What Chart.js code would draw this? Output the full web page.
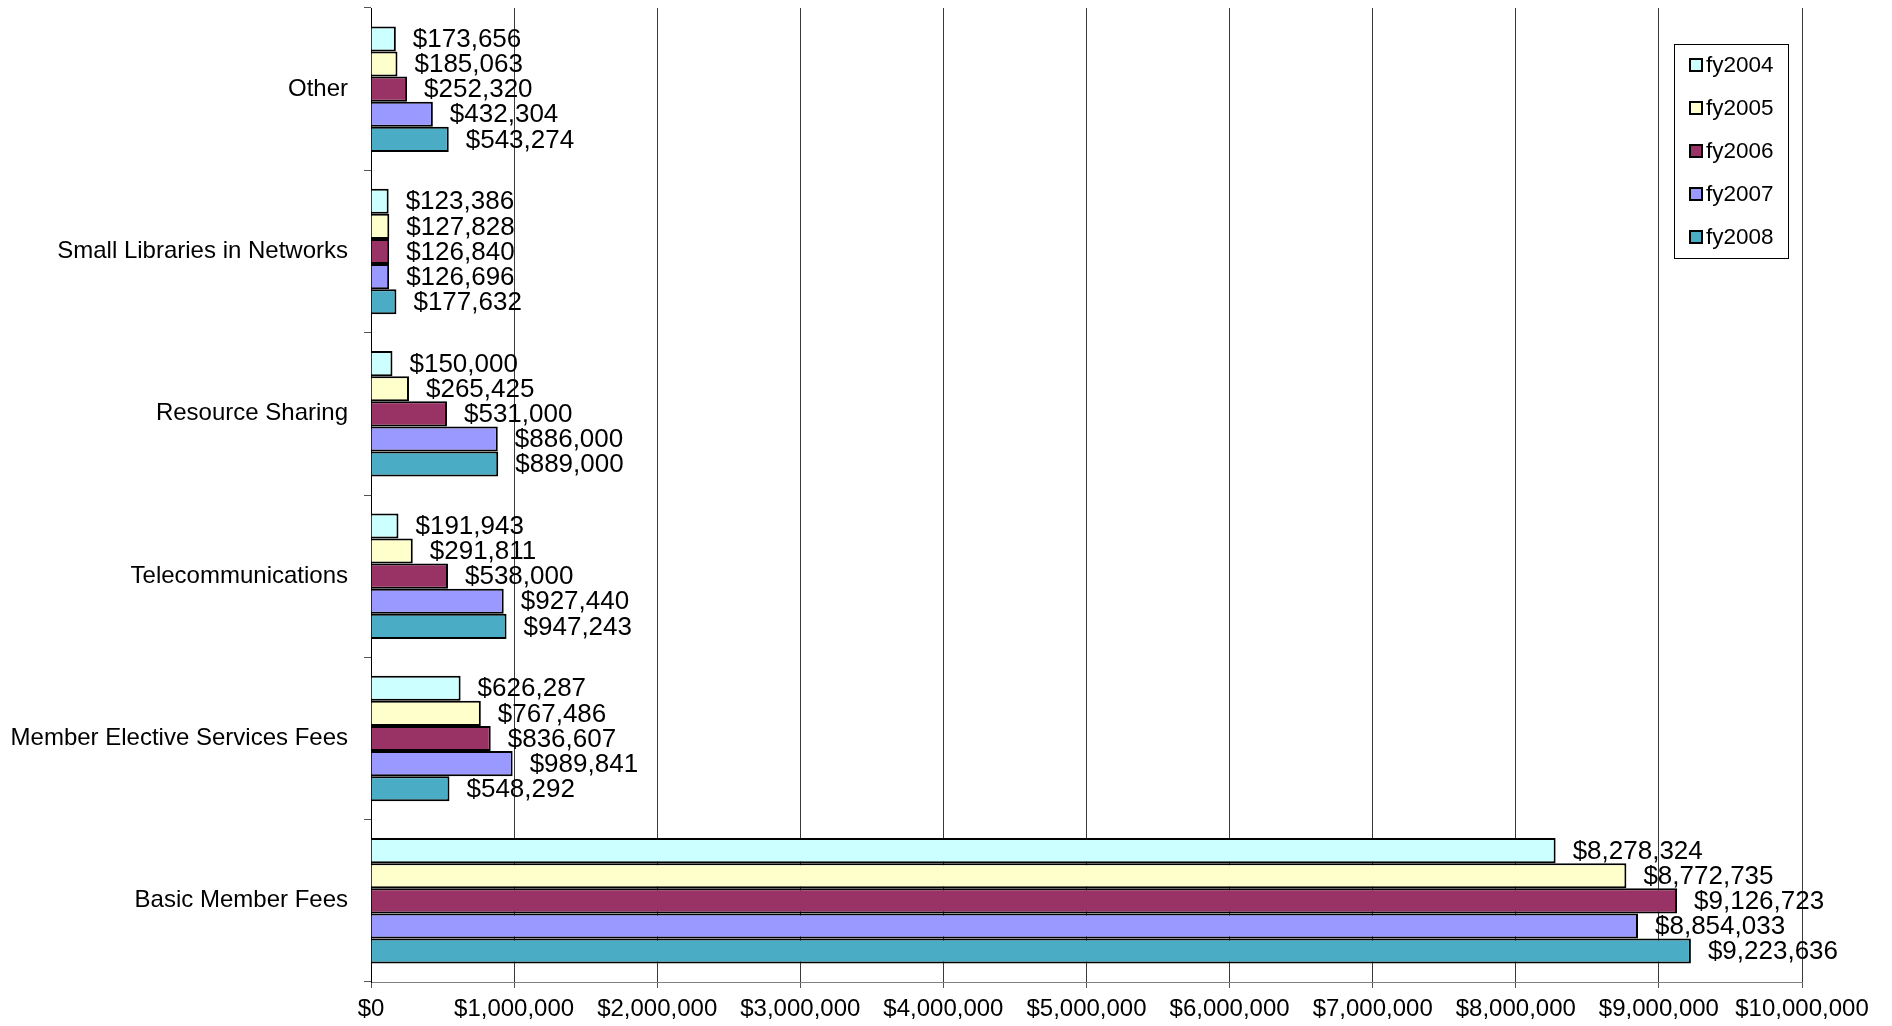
<!DOCTYPE html>
<html>
<head>
<meta charset="utf-8">
<script src="https://cdn.jsdelivr.net/npm/chart.js@4/dist/chart.umd.min.js"></script>
<style>
  html, body { margin: 0; padding: 0; background: #fff; }
  #wrap { width: 1892px; height: 1026px; }
</style>
</head>
<body>
<div id="wrap"><canvas id="revenueChart"></canvas></div>
<script>
const categories = ["Other", "Small Libraries in Networks", "Resource Sharing",
  "Telecommunications", "Member Elective Services Fees", "Basic Member Fees"];

const fy2004 = [173656, 123386, 150000, 191943, 626287, 8278324];
const fy2005 = [185063, 127828, 265425, 291811, 767486, 8772735];
const fy2006 = [252320, 126840, 531000, 538000, 836607, 9126723];
const fy2007 = [432304, 126696, 886000, 927440, 989841, 8854033];
const fy2008 = [543274, 177632, 889000, 947243, 548292, 9223636];

const seriesNames = ["fy2004", "fy2005", "fy2006", "fy2007", "fy2008"];
const seriesColors = ['#CCFFFF', '#FFFFCC', '#993366', '#9999FF', '#4BACC6'];

const tickValues = [0, 1000000, 2000000, 3000000, 4000000, 5000000,
  6000000, 7000000, 8000000, 9000000, 10000000];

const FONT = "'Liberation Sans', Arial, sans-serif";

function money(v) {
  return '$' + Number(v).toLocaleString('en-US');
}

const valueLabels = {
  id: 'valueLabels',
  afterDatasetsDraw(chart) {
    const ctx = chart.ctx;
    ctx.save();
    ctx.font = '26px ' + FONT;
    ctx.fillStyle = '#000';
    ctx.textAlign = 'left';
    ctx.textBaseline = 'middle';
    chart.data.datasets.forEach((ds, i) => {
      const meta = chart.getDatasetMeta(i);
      meta.data.forEach((bar, j) => {
        ctx.fillText(money(ds.data[j]), bar.x + 17, bar.y + 1);
      });
    });
    ctx.restore();
  }
};

const boxLegend = {
  id: 'boxLegend',
  afterDraw(chart) {
    const ctx = chart.ctx;
    const left = 1674, top = 44, w = 114, h = 214;
    ctx.save();
    ctx.fillStyle = '#fff';
    ctx.fillRect(left, top, w, h);
    ctx.strokeStyle = '#000';
    ctx.lineWidth = 1;
    ctx.strokeRect(left + 0.5, top + 0.5, w, h);
    ctx.font = '22.5px ' + FONT;
    ctx.textBaseline = 'middle';
    ctx.textAlign = 'left';
    chart.data.datasets.forEach((ds, i) => {
      const cy = top + 21 + i * 43;
      ctx.fillStyle = ds.backgroundColor;
      ctx.fillRect(left + 16, cy - 6, 12, 12);
      ctx.lineWidth = 2;
      ctx.strokeStyle = '#000';
      ctx.strokeRect(left + 16, cy - 6, 12, 12);
      ctx.fillStyle = '#000';
      ctx.fillText(ds.label, left + 32, cy + 1);
    });
    ctx.restore();
  }
};

const allSeries = [fy2004, fy2005, fy2006, fy2007, fy2008];

const ctx = document.getElementById('revenueChart').getContext('2d');
new Chart(ctx, {
  type: 'bar',
  data: {
    labels: categories,
    datasets: allSeries.map((vals, i) => ({
      label: seriesNames[i],
      data: vals,
      backgroundColor: seriesColors[i],
      borderColor: '#000',
      borderWidth: 2,
      categoryPercentage: 0.773,
      barPercentage: 1.0
    }))
  },
  options: {
    indexAxis: 'y',
    responsive: true,
    maintainAspectRatio: false,
    animation: false,
    layout: { padding: { top: 8, right: 90, bottom: 0, left: 0 } },
    plugins: {
      legend: { display: false },
      tooltip: { enabled: false }
    },
    scales: {
      x: {
        min: 0,
        max: 10000000,
        afterBuildTicks: s => { s.ticks = tickValues.map(v => ({ value: v })); },
        afterFit: s => { s.height = 44; s.paddingLeft = 0; s.paddingRight = 0; },
        ticks: {
          callback: v => money(v),
          color: '#000',
          font: { family: FONT, size: 24 },
          padding: 7,
          maxRotation: 0
        },
        grid: { color: '#3a3a3a', lineWidth: 1, tickLength: 6, tickColor: '#555' },
        border: { color: '#808080', width: 1 }
      },
      y: {
        afterFit: s => { s.width = 371; s.paddingTop = 0; s.paddingBottom = 0; },
        ticks: {
          color: '#000',
          font: { family: FONT, size: 24 },
          padding: 16
        },
        grid: { drawOnChartArea: false, tickLength: 7, tickColor: '#555', offset: true },
        border: { color: '#000', width: 1 }
      }
    }
  },
  plugins: [valueLabels, boxLegend]
});
</script>
</body>
</html>
